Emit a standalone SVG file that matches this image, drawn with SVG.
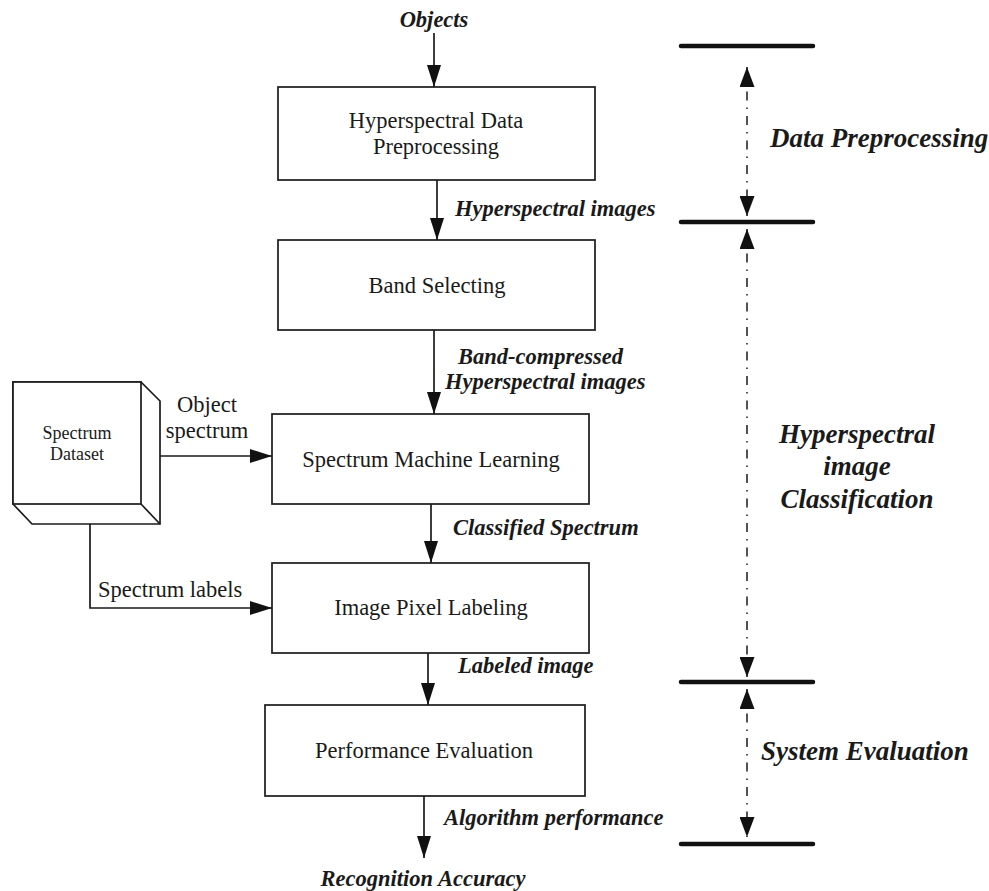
<svg xmlns="http://www.w3.org/2000/svg" width="989" height="891" viewBox="0 0 989 891">
<style>
.box{fill:#fff;stroke:#1a1a1a;stroke-width:1.7}
.ln{fill:none;stroke:#1a1a1a;stroke-width:1.7}
.t{font-family:"Liberation Serif","Times New Roman",serif;font-size:22.5px;fill:#1a1a1a}
.s{font-family:"Liberation Serif","Times New Roman",serif;font-size:18px;fill:#1a1a1a}
.bi{font-family:"Liberation Serif","Times New Roman",serif;font-size:22.5px;font-weight:bold;font-style:italic;fill:#1a1a1a}
.big{font-family:"Liberation Serif","Times New Roman",serif;font-size:27px;font-weight:bold;font-style:italic;fill:#1a1a1a}
.bar{stroke:#111;stroke-width:4.5;stroke-linecap:round}
.dd{fill:none;stroke:#1a1a1a;stroke-width:1.5;stroke-dasharray:9 7 1.5 7}
</style>
<defs>
<marker id="ah" markerUnits="userSpaceOnUse" markerWidth="22" markerHeight="14" refX="22" refY="7" orient="auto">
<path d="M0,0 L22,7 L0,14 z" fill="#111"/>
</marker>
<marker id="ah2" markerUnits="userSpaceOnUse" markerWidth="20" markerHeight="15" refX="20" refY="7.5" orient="auto-start-reverse">
<path d="M0,0 L20,7.5 L0,15 z" fill="#111"/>
</marker>
</defs>

<g id="connectors">
<line class="ln" x1="434" y1="33" x2="434" y2="87" marker-end="url(#ah)"/>
<line class="ln" x1="437" y1="180" x2="437" y2="240" marker-end="url(#ah)"/>
<line class="ln" x1="434" y1="330" x2="434" y2="414" marker-end="url(#ah)"/>
<line class="ln" x1="431" y1="504" x2="431" y2="563" marker-end="url(#ah)"/>
<line class="ln" x1="428" y1="653" x2="428" y2="705" marker-end="url(#ah)"/>
<line class="ln" x1="424" y1="796" x2="424" y2="858" marker-end="url(#ah)"/>
<line class="ln" x1="148" y1="456" x2="272" y2="456" marker-end="url(#ah)"/>
<polyline class="ln" points="90,514 90,608 272,608" marker-end="url(#ah)"/>
<text class="t" x="207" y="412" text-anchor="middle">Object</text>
<text class="t" x="207" y="438" text-anchor="middle">spectrum</text>
<text class="t" x="98" y="597">Spectrum labels</text>
<text class="bi" x="434" y="27" text-anchor="middle">Objects</text>
<text class="bi" x="455" y="216">Hyperspectral images</text>
<text class="bi" x="458" y="364">Band-compressed</text>
<text class="bi" x="445" y="389">Hyperspectral images</text>
<text class="bi" x="453" y="535">Classified Spectrum</text>
<text class="bi" x="458" y="673">Labeled image</text>
<text class="bi" x="444" y="825">Algorithm performance</text>
<text class="bi" x="423" y="886" text-anchor="middle">Recognition Accuracy</text>
</g>

<g id="n-preprocessing">
<rect class="box" x="278" y="87" width="317" height="93"/>
<text class="t" x="436" y="128" text-anchor="middle">Hyperspectral Data</text>
<text class="t" x="436" y="154" text-anchor="middle">Preprocessing</text>
</g>
<g id="n-band">
<rect class="box" x="278" y="240" width="317" height="90"/>
<text class="t" x="437" y="293" text-anchor="middle">Band Selecting</text>
</g>
<g id="n-sml">
<rect class="box" x="272" y="414" width="317" height="90"/>
<text class="t" x="431" y="467" text-anchor="middle">Spectrum Machine Learning</text>
</g>
<g id="n-ipl">
<rect class="box" x="272" y="563" width="317" height="90"/>
<text class="t" x="431" y="615" text-anchor="middle">Image Pixel Labeling</text>
</g>
<g id="n-perf">
<rect class="box" x="265" y="705" width="320" height="91"/>
<text class="t" x="424" y="758" text-anchor="middle">Performance Evaluation</text>
</g>
<g id="n-dataset">
<polygon class="box" points="13,382 141,382 160,401 160,524 32,524 13,504"/>
<rect class="box" x="13" y="382" width="128" height="122"/>
<line class="ln" x1="141" y1="504" x2="160" y2="524"/>
<text class="s" x="77" y="439" text-anchor="middle">Spectrum</text>
<text class="s" x="77" y="460" text-anchor="middle">Dataset</text>
</g>

<g id="stages">
<line class="bar" x1="681" y1="46" x2="813" y2="46"/>
<line class="bar" x1="681" y1="222" x2="813" y2="222"/>
<line class="bar" x1="681" y1="682" x2="813" y2="682"/>
<line class="bar" x1="681" y1="844" x2="813" y2="844"/>
<line class="dd" x1="747" y1="67" x2="747" y2="216" marker-start="url(#ah2)" marker-end="url(#ah2)"/>
<line class="dd" x1="747" y1="229" x2="747" y2="677" marker-start="url(#ah2)" marker-end="url(#ah2)"/>
<line class="dd" x1="747" y1="689" x2="747" y2="837" marker-start="url(#ah2)" marker-end="url(#ah2)"/>
<text class="big" x="770" y="147">Data Preprocessing</text>
<text class="big" x="857" y="443" text-anchor="middle">Hyperspectral</text>
<text class="big" x="857" y="475" text-anchor="middle">image</text>
<text class="big" x="857" y="508" text-anchor="middle">Classification</text>
<text class="big" x="761" y="760">System Evaluation</text>
</g>
</svg>
